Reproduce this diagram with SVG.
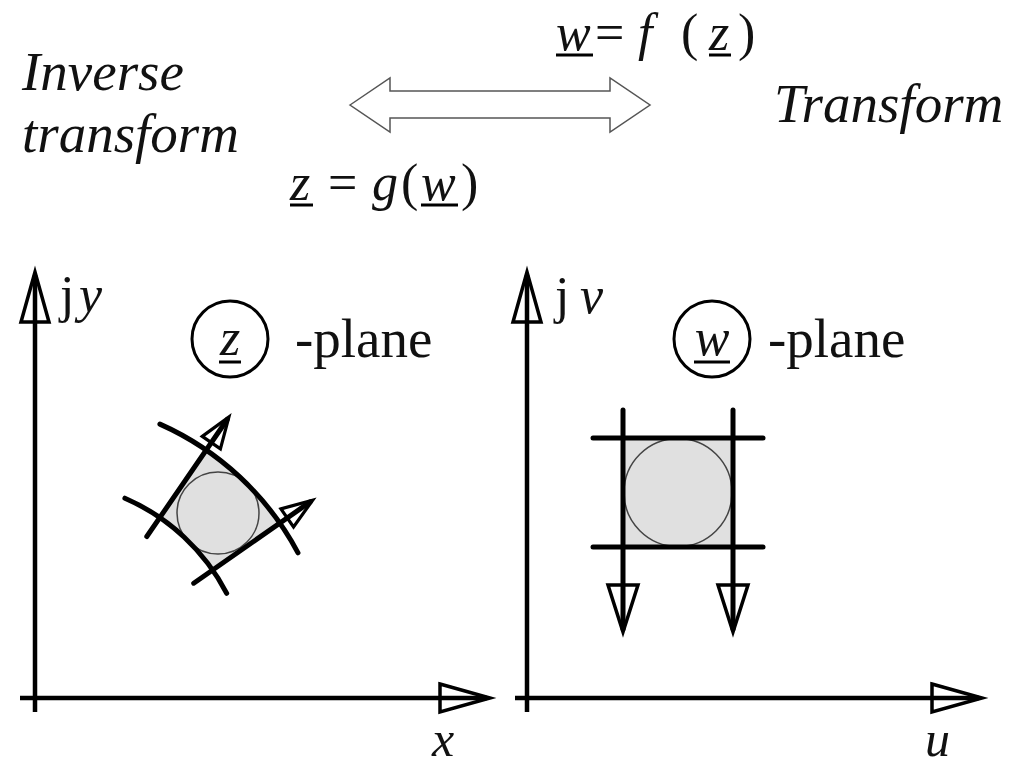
<svg xmlns="http://www.w3.org/2000/svg" width="1011" height="768" viewBox="0 0 1011 768">
<style>
text{font-family:"Liberation Serif","Times New Roman",serif;fill:#111}
.it{font-style:italic}
.big{font-size:55px}
.m{font-size:52px}
.ax{stroke:#000;stroke-width:4.5;fill:none}
.thick{stroke:#000;stroke-width:5;fill:none;stroke-linecap:round}
.thin{stroke:#444;stroke-width:1.5;fill:none}
.ul{stroke:#000;stroke-width:3}
.shade{fill:#e0e0e0}
</style>
<defs>
<marker id="ah" markerUnits="userSpaceOnUse" markerWidth="60" markerHeight="40" viewBox="-55 -20 60 40" refX="-3" refY="0" orient="auto" overflow="visible">
<path d="M-50,-14 L0,0 L-50,14 Z" fill="none" stroke="#000" stroke-width="3.5" stroke-miterlimit="12"/>
</marker>
<marker id="ahd" markerUnits="userSpaceOnUse" markerWidth="60" markerHeight="40" viewBox="-55 -20 60 40" refX="-3" refY="0" orient="auto" overflow="visible">
<path d="M-47,-15 L0,0 L-47,15 Z" fill="none" stroke="#000" stroke-width="3.5" stroke-miterlimit="12"/>
</marker>
<marker id="ahs" markerUnits="userSpaceOnUse" markerWidth="40" markerHeight="30" viewBox="-35 -15 40 30" refX="-3" refY="0" orient="auto" overflow="visible">
<path d="M-31,-11 L0,0 L-31,11 Z" fill="none" stroke="#000" stroke-width="3.2" stroke-miterlimit="12"/>
</marker>
</defs>
<rect width="1011" height="768" fill="#fff"/>

<g id="labels-top">
<text class="it big" x="22" y="90">Inverse</text>
<text class="it big" x="22" y="152">transform</text>
<text class="it big" x="774" y="122">Transform</text>
</g>

<g id="formula-f">
<text class="m" y="50"><tspan class="it" x="556">w</tspan><tspan x="595">=</tspan><tspan class="it" x="638">f</tspan><tspan x="681">(</tspan><tspan class="it" x="709">z</tspan><tspan x="738">)</tspan></text>
<line class="ul" x1="556" y1="55" x2="593" y2="55"/>
<line class="ul" x1="709" y1="55" x2="731" y2="55"/>
</g>

<g id="formula-g">
<text class="m" y="200"><tspan class="it" x="290">z</tspan><tspan x="328">=</tspan><tspan class="it" x="372">g</tspan><tspan x="401">(</tspan><tspan class="it" x="421">w</tspan><tspan x="461">)</tspan></text>
<line class="ul" x1="290" y1="205" x2="313" y2="205"/>
<line class="ul" x1="421" y1="205" x2="458" y2="205"/>
</g>

<g id="double-arrow">
<polygon points="350,105 390,78 390,91 610,91 610,78 650,105 610,132 610,118 390,118 390,132" fill="#fff" stroke="#555" stroke-width="1.5"/>
</g>

<g id="z-plane-axes">
<line class="ax" x1="35" y1="712" x2="35" y2="275" marker-end="url(#ah)"/>
<line class="ax" x1="20" y1="698" x2="487" y2="698" marker-end="url(#ah)"/>
<text class="m" x="60" y="312">j<tspan class="it" x="79">y</tspan></text>
<text class="it" style="font-size:50px" x="432" y="756">x</text>
</g>

<g id="z-plane-label">
<circle cx="230" cy="339" r="38" fill="none" stroke="#000" stroke-width="3"/>
<text class="m it" x="230" y="355" text-anchor="middle">z</text>
<line class="ul" x1="219" y1="362" x2="241" y2="362"/>
<text class="big" x="295" y="357">-plane</text>
</g>

<g id="z-plane-figure">
<path class="shade" d="M159.8,517.6 L206.3,450 A290,290 0 0 1 279.9,523.1 L212.6,570 A208,208 0 0 0 159.8,517.6 Z"/>
<circle class="thin" cx="218" cy="513" r="41"/>
<path class="thick" d="M159.9,424.1 A290,290 0 0 1 298,552.8"/>
<path class="thick" d="M124.9,498.2 A208,208 0 0 1 226.7,593.3"/>
<line class="thick" x1="146.8" y1="536.5" x2="227.2" y2="419.5" marker-end="url(#ahs)"/>
<line class="thick" x1="193.7" y1="583.2" x2="310.2" y2="501.9" marker-end="url(#ahs)"/>
</g>

<g id="w-plane-axes">
<line class="ax" x1="527" y1="712" x2="527" y2="275" marker-end="url(#ah)"/>
<line class="ax" x1="515" y1="698" x2="979" y2="698" marker-end="url(#ah)"/>
<text class="m" x="555" y="313">j<tspan class="it" x="580">v</tspan></text>
<text class="it" style="font-size:50px" x="925" y="756">u</text>
</g>

<g id="w-plane-label">
<circle cx="712" cy="339" r="38" fill="none" stroke="#000" stroke-width="3"/>
<text class="m it" x="712" y="355" text-anchor="middle">w</text>
<line class="ul" x1="694" y1="362" x2="730" y2="362"/>
<text class="big" x="768" y="357">-plane</text>
</g>

<g id="w-plane-figure">
<rect class="shade" x="623" y="438" width="110" height="109"/>
<circle class="thin" cx="678" cy="492.5" r="54"/>
<line class="thick" x1="593" y1="438" x2="763" y2="438"/>
<line class="thick" x1="593" y1="547" x2="763" y2="547"/>
<line class="thick" x1="623" y1="410" x2="623" y2="629" marker-end="url(#ahd)"/>
<line class="thick" x1="733" y1="410" x2="733" y2="629" marker-end="url(#ahd)"/>
</g>
</svg>
